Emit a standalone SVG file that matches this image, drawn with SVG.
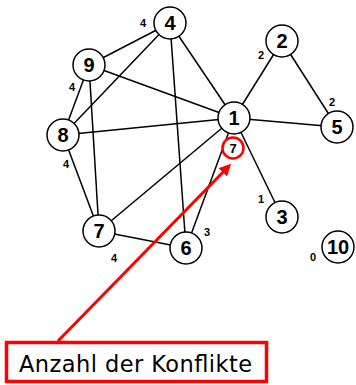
<svg xmlns="http://www.w3.org/2000/svg" width="356" height="385" viewBox="0 0 356 385">
<style>
.e{stroke:#000;stroke-width:1.5;fill:none}
.n circle{fill:#fff;stroke:#000;stroke-width:1.5}
.n text{font-family:"Liberation Sans",Arial,sans-serif;font-weight:bold;font-size:20px;text-anchor:middle;fill:#000}
.d{font-family:"Liberation Sans",Arial,sans-serif;font-weight:bold;font-size:11px;text-anchor:middle;fill:#000}
</style>
<defs>
<marker id="ah" markerWidth="4" markerHeight="4" refX="3" refY="2" orient="auto" markerUnits="strokeWidth">
<path d="M0,0 L4,2 L0,4 z" fill="#f00"/>
</marker>
</defs>
<rect width="356" height="385" fill="#fff"/>
<g id="connectors">
<line class="e" x1="170" y1="23" x2="89" y2="65"/>
<line class="e" x1="170" y1="23" x2="63" y2="135"/>
<line class="e" x1="170" y1="23" x2="234" y2="118"/>
<line class="e" x1="170" y1="23" x2="186" y2="248"/>
<line class="e" x1="89" y1="65" x2="234" y2="118"/>
<line class="e" x1="89" y1="65" x2="63" y2="135"/>
<line class="e" x1="89" y1="65" x2="99" y2="231"/>
<line class="e" x1="63" y1="135" x2="234" y2="118"/>
<line class="e" x1="63" y1="135" x2="99" y2="231"/>
<line class="e" x1="99" y1="231" x2="234" y2="118"/>
<line class="e" x1="99" y1="231" x2="186" y2="248"/>
<line class="e" x1="186" y1="248" x2="234" y2="118"/>
<line class="e" x1="234" y1="118" x2="282" y2="41"/>
<line class="e" x1="234" y1="118" x2="337" y2="127"/>
<line class="e" x1="282" y1="41" x2="337" y2="127"/>
<line class="e" x1="234" y1="118" x2="282" y2="217"/>
</g>
<g id="n4" class="n"><circle cx="170" cy="23" r="16"/><text x="170" y="30">4</text></g>
<g id="n9" class="n"><circle cx="89" cy="65" r="16"/><text x="89" y="72">9</text></g>
<g id="n8" class="n"><circle cx="63" cy="135" r="16"/><text x="63" y="142">8</text></g>
<g id="n1" class="n"><circle cx="234" cy="118" r="16"/><text x="234" y="125">1</text></g>
<g id="n2" class="n"><circle cx="282" cy="41" r="16"/><text x="282" y="48">2</text></g>
<g id="n5" class="n"><circle cx="337" cy="127" r="16"/><text x="337" y="134">5</text></g>
<g id="n7" class="n"><circle cx="99" cy="231" r="16"/><text x="99" y="238">7</text></g>
<g id="n6" class="n"><circle cx="186" cy="248" r="16"/><text x="186" y="255">6</text></g>
<g id="n3" class="n"><circle cx="282" cy="217" r="16"/><text x="282" y="224">3</text></g>
<g id="n10" class="n"><circle cx="338" cy="247" r="16"/><text x="338" y="254">10</text></g>
<g id="degrees">
<text class="d" x="143" y="27">4</text>
<text class="d" x="72" y="91">4</text>
<text class="d" x="66" y="168">4</text>
<text class="d" x="261" y="59">2</text>
<text class="d" x="332" y="106">2</text>
<text class="d" x="261" y="203">1</text>
<text class="d" x="313" y="261">0</text>
<text class="d" x="207" y="236">3</text>
<text class="d" x="114" y="262">4</text>
</g>
<g id="conflicts">
<circle cx="233" cy="148" r="10.5" fill="#fff" stroke="#f00" stroke-width="2.5"/>
<text x="233" y="153" style="font-family:'Liberation Sans',Arial,sans-serif;font-weight:bold;font-size:13px;text-anchor:middle">7</text>
</g>
<g id="callout">
<line x1="58" y1="341" x2="229" y2="166" stroke="#f00" stroke-width="3" marker-end="url(#ah)"/>
<rect x="6.5" y="342.5" width="260" height="39" fill="#fff" stroke="#f00" stroke-width="3.5"/>
<text x="19" y="372" textLength="233" style="font-family:'DejaVu Sans',Verdana,sans-serif;font-size:22.5px;fill:#000">Anzahl der Konflikte</text>
</g>
</svg>
